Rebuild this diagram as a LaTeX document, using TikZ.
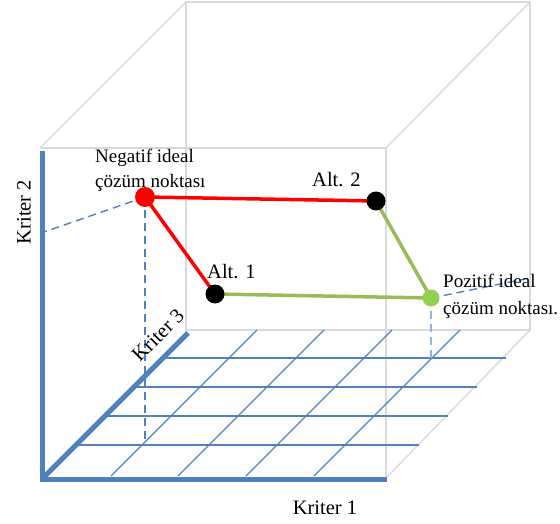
\documentclass[tikz,border=0pt]{standalone}
\usepackage{fontspec}
\setmainfont{Liberation Serif}
\definecolor{cubegray}{HTML}{D9D9D9}
\definecolor{axisblue}{HTML}{4F81BD}
\definecolor{lightblue}{HTML}{95B3D7}
\definecolor{linegreen}{HTML}{9BBB59}
\definecolor{dotgreen}{HTML}{92D050}
\begin{document}
\begin{tikzpicture}[x=1pt,y=-1pt,
  cube/.style={draw=cubegray,line width=1.4pt,line join=miter},
  axisline/.style={draw=axisblue,line width=5pt},
  gridline/.style={draw=axisblue,line width=1.4pt},
  guide/.style={draw=axisblue,line width=1.4pt,dash pattern=on 8pt off 5pt},
  lightguide/.style={draw=lightblue,line width=1.4pt,dash pattern=on 8pt off 5pt},
  redline/.style={draw=red,line width=3.5pt},
  greenline/.style={draw=linegreen,line width=3.5pt},
  dot/.style={circle,inner sep=0pt,minimum size=#1},
  lbl/.style={font=\fontsize{19}{25}\selectfont,inner sep=0pt},
  axlbl/.style={font=\fontsize{20.5}{25}\selectfont,inner sep=0pt},
]
\useasboundingbox (0,0) rectangle (560,524);

% cube
\coordinate (fTL) at (40,148);
\coordinate (fTR) at (386,148);
\coordinate (fBR) at (386,478);
\coordinate (fBL) at (40,478);
\coordinate (bTL) at (186,2);
\coordinate (bTR) at (530,2);
\coordinate (bBR) at (530,330);
\coordinate (bBL) at (186,330);
\draw[cube] (fTL) -- (fTR) -- (fBR);
\draw[cube] (fTL) -- (bTL);
\draw[cube] (bTL) -- (bTR) -- (bBR) -- (bBL) -- cycle;
\draw[cube] (fTR) -- (bTR);
\draw[cube] (fBR) -- (bBR);

% grid
\foreach \y/\xa/\xb in {358/162/506,387/133/477,416/104/448,445/75/419}{
  \draw[gridline] (\xa,\y) -- (\xb,\y);
}
\foreach \xa/\xb in {111/257,178/324,246/392,314/460}{
  \draw[gridline] (\xa,476) -- (\xb,330);
}

% dashed guides
\coordinate (neg) at (145,197);
\coordinate (alt2) at (376,201);
\coordinate (alt1) at (215,294);
\coordinate (poz) at (431,298);
\coordinate (negY) at (44,232);
\coordinate (negF) at (145,444);
\coordinate (pozY) at (530,278);
\coordinate (pozF) at (431,358);
\draw[guide] (neg) -- (negY);
\draw[guide] (neg) -- (negF);
\draw[guide] (poz) -- (pozY);
\draw[lightguide] (poz) -- (pozF);

% axes
\coordinate (origin) at (42,479);
\draw[axisline] (40,479) -- (387,479);
\draw[axisline] (42,151) -- (42,481);
\draw[axisline] (origin) -- (188,333);

% connectors
\draw[redline] (neg) -- (alt2);
\draw[redline] (neg) -- (alt1);
\draw[greenline] (alt2) -- (poz);
\draw[greenline] (alt1) -- (poz);

% points
\node[dot=20pt,fill=red] (nNeg) at (neg) {};
\node[dot=19pt,fill=black] (nAlt2) at (alt2) {};
\node[dot=19pt,fill=black] (nAlt1) at (alt1) {};
\node[dot=17pt,fill=dotgreen] (nPoz) at (poz) {};

% labels
\node[lbl,anchor=base west] (tNeg1) at (95,163) {Negatif ideal};
\node[lbl,anchor=base west] (tNeg2) at (95,188) {çözüm noktası};
\node[lbl,anchor=base west] (tPoz1) at (443,287) {Pozitif ideal};
\node[lbl,anchor=base west] (tPoz2) at (443,314) {çözüm noktası.};
\node[axlbl,anchor=base west] (tAlt2) at (312,187) {Alt. 2};
\node[axlbl,anchor=base west] (tAlt1) at (207,278) {Alt. 1};
\node[axlbl] (tK1) at (325,508) {Kriter 1};
\node[axlbl,rotate=90] (tK2) at (24,212) {Kriter 2};
\node[axlbl,rotate=45] (tK3) at (158,335) {Kriter 3};
\end{tikzpicture}
\end{document}
